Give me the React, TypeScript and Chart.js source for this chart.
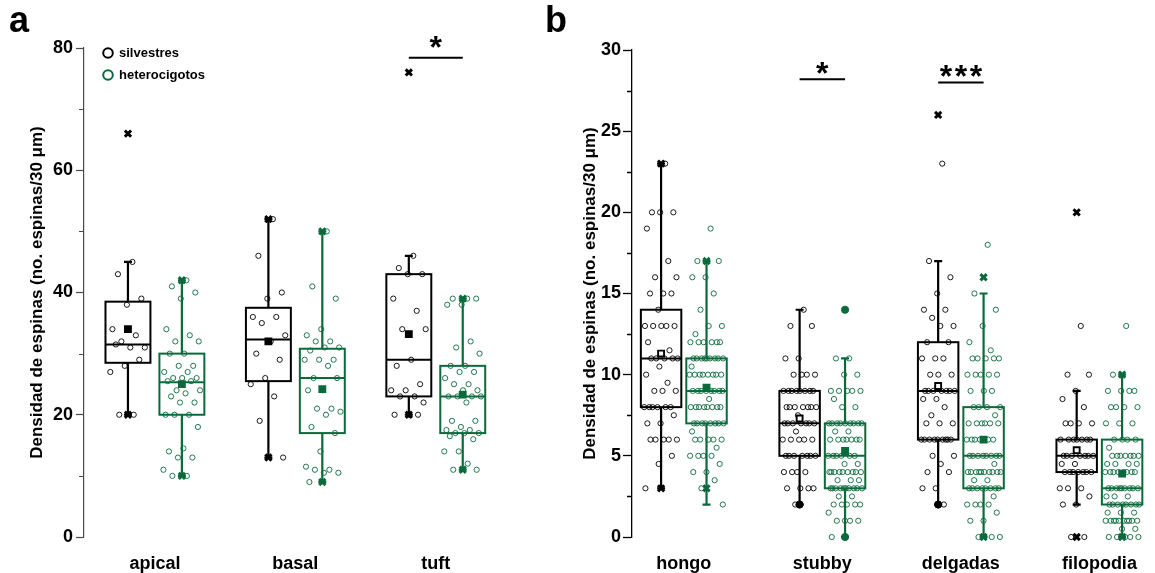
import React, { useEffect, useRef } from 'react';
import { Chart, registerables } from 'chart.js';

Chart.register(...registerables);

const FONT = '"Liberation Sans", Arial, Helvetica, sans-serif';
const BLACK = '#000000';
const GREEN = '#0b6a3c';

const SERIES = ['silvestres', 'heterocigotos'];

// ---------- Panel a ----------
const CATS_A = ['apical', 'basal', 'tuft'];
const A_SIL_PTS = [
  [45, 43, 39, 38, 34, 33, 32, 31, 31, 31.5, 29, 28, 27, 20, 20],
  [52, 46, 40, 39, 36, 36, 35, 33, 32, 30, 29, 26, 25, 23, 19, 13],
  [46, 44, 43, 43, 39, 37, 34, 34, 29, 28, 25, 24, 24, 23, 23, 22, 20, 20, 20],
];
const A_HET_PTS = [
  [42, 41, 40, 39, 34, 33, 32, 32, 30, 30, 28, 28, 27, 27, 26, 26, 26, 25.5, 25.5, 24, 24, 23.5, 23, 22, 22, 20, 20, 20, 18, 14.5, 14, 13, 13, 11, 10, 10],
  [50, 41, 39, 34, 33, 32, 32, 31, 31, 30.5, 29, 29, 29, 28, 26, 26, 24, 24, 21, 21, 20.5, 20, 18, 17, 14, 11.5, 11, 11, 10.5, 10.5, 9],
  [39, 39, 39, 38, 38, 32, 31, 30, 28, 28, 27, 27, 26, 25, 25, 24, 24, 23, 23, 23, 23, 22, 19, 19, 18, 17.5, 17.5, 17, 17, 17, 16.5, 16, 14, 14, 12, 11, 11],
];
const A_SIL_Q1 = [28.5, 25.5, 23];
const A_SIL_MED = [31.5, 32.3, 29];
const A_SIL_Q3 = [38.5, 37.5, 43];
const A_SIL_LO = [20, 13, 20];
const A_SIL_HI = [45, 52, 46];
const A_SIL_MEAN = [34, 32, 33.2];
const A_SIL_X = [[20, 66], [13, 52], [20, 76]];
const A_HET_Q1 = [20, 17, 17];
const A_HET_MED = [25.3, 26, 23];
const A_HET_Q3 = [30, 30.8, 28];
const A_HET_LO = [10, 9, 11];
const A_HET_HI = [42, 50, 39];
const A_HET_MEAN = [25, 24.2, 23.3];
const A_HET_X = [[10, 42], [9, 50], [11, 39]];
const A_SIG = [{ cat: 3, y: 78.4, stars: 1 }];

// ---------- Panel b ----------
const CATS_B = ['hongo', 'stubby', 'delgadas', 'filopodia'];
const B_SIL_PTS = [
  [23, 20, 20, 20, 19, 17, 16, 16, 15, 15, 15, 14, 13, 13, 13, 13, 13, 12, 11.5, 11, 11, 11, 11, 11, 10.5, 10, 9.5, 9, 9, 9, 8, 8, 8, 8, 8, 8, 7.5, 7, 7, 6, 6, 6, 6, 6, 5, 4.5, 3],
  [14, 13, 13, 11, 11, 10, 10, 10, 10, 9, 9, 9, 9, 9, 9, 9, 9, 8, 8, 8, 8, 8, 8, 8, 7.5, 7, 7, 7, 7, 7, 7, 7, 6.5, 6, 6, 6, 6, 6, 5, 5, 5, 5, 5, 5, 5, 4, 4, 4, 4, 3, 3, 3, 3, 2],
  [23, 17, 16, 15, 14, 14, 13.5, 13, 13, 12, 12, 11, 11, 11, 10, 10, 10, 9, 9, 9, 9, 9, 9, 9, 8.5, 8.5, 8, 7.5, 7, 7, 7, 6, 6, 6, 6, 6, 6, 6, 6, 6, 5, 5, 4.5, 4, 4, 3, 3, 2],
  [13, 10, 10, 9, 8.5, 8, 7, 7, 7, 7, 6, 6, 6, 6, 6, 6, 6, 5, 5, 5, 5, 5, 5, 5, 4.5, 4.5, 4, 4, 4, 4, 4, 4, 4, 3, 3, 3, 2.5, 2, 2, 0, 0],
];
const B_HET_PTS = [
  [19, 17, 17, 16, 16, 15, 14, 13, 13, 12.5, 12, 12, 12, 12, 12, 12, 11, 11, 11, 11, 11, 11, 11, 11, 11, 10.5, 10, 10, 10, 10, 10, 10, 10, 10, 9, 9, 9, 9, 9, 9, 9, 9, 8.5, 8, 8, 8, 8, 8, 8, 8, 8, 7, 7, 7, 7, 7, 7, 7, 7, 6.5, 6, 6, 6, 6, 6, 5.5, 5, 5, 5, 5, 4.5, 4, 4, 3.5, 3, 2],
  [11, 11, 10, 10, 9, 9, 9, 9, 9, 8.5, 8, 8, 7, 7, 7, 7, 7, 7, 7, 7, 7, 6.5, 6.5, 6, 6, 6, 6, 6, 6, 6, 5, 5, 5, 5, 5, 5, 4.5, 4.5, 4, 4, 4, 4, 4, 4, 4, 4, 4, 3.5, 3.5, 3.5, 3, 3, 3, 3, 3, 3, 3, 3, 3, 3, 2.5, 2.5, 2, 2, 2, 2, 2, 1.5, 1, 1, 1, 1, 0],
  [18, 15, 14, 13, 12, 11.5, 11, 11, 11, 11, 11, 10, 10, 10, 10, 10, 9, 9, 9, 8, 8, 8, 8, 7.5, 7, 7, 7, 7, 7, 7, 6, 6, 6, 6, 6, 6, 5, 5, 5, 5, 5, 5, 5, 5, 4.5, 4, 4, 4, 4, 4, 4, 4, 4, 4, 4, 3.5, 3.5, 3, 3, 3, 3, 3, 3, 3, 3, 2.5, 2, 2, 2, 2, 1.5, 1, 1, 0, 0, 0],
  [13, 10, 9, 9, 9, 9, 8, 8, 8, 8, 7, 7, 7, 6, 6, 6, 6, 5.5, 5, 5, 5, 5, 5, 5, 5, 4.5, 4.5, 4.5, 4.5, 4, 4, 4, 4, 4, 4, 4, 4, 3, 3, 3, 3, 3, 3, 3, 3, 3, 2.5, 2.5, 2.5, 2, 2, 2, 2, 2, 2, 2, 2, 1.5, 1.5, 1.5, 1, 1, 1, 1, 1, 1, 1, 1, 1, 1, 0.5, 0.5, 0, 0, 0, 0, 0],
];
const B_SIL_Q1 = [8, 5, 6, 4];
const B_SIL_MED = [11, 7, 9, 5];
const B_SIL_Q3 = [14, 9, 12, 6];
const B_SIL_LO = [3, 2, 2, 2];
const B_SIL_HI = [23, 14, 17, 9];
const B_SIL_MEAN = [11.3, 7.3, 9.3, 5.35];
const B_SIL_X = [[3, 23], [], [26], [0, 20]];
const B_SIL_DOT = [[], [2], [2], []];
const B_HET_Q1 = [7, 3, 3, 2];
const B_HET_MED = [9, 5, 5, 3];
const B_HET_Q3 = [11, 7, 8, 6];
const B_HET_LO = [2, 0, 0, 0];
const B_HET_HI = [17, 11, 15, 10];
const B_HET_MEAN = [9.2, 5.3, 6, 3.9];
const B_HET_X = [[3, 17], [], [0, 16], [0, 10]];
const B_HET_DOT = [[], [0, 14], [], []];
const B_SIG = [
  { cat: 2, y: 28.2, stars: 1 },
  { cat: 3, y: 28.0, stars: 3 },
];

const Y_TITLE = 'Densidad de espinas (no. espinas/30 μm)';

// ---------- helpers ----------
type Pt = { x: number; y: number };
const jitter = (i: number) => ((i * 0.6180339887) % 1) - 0.5;

function pointsData(groups: number[][], offset: number, spread: number): Pt[] {
  const out: Pt[] = [];
  groups.forEach((vals, c) =>
    vals.forEach((v, i) => out.push({ x: c + 1 + offset + jitter(i + 1) * spread, y: v }))
  );
  return out;
}
function centerData(values: number[], offset: number): Pt[] {
  return values.map((v, c) => ({ x: c + 1 + offset, y: v }));
}
function markerData(groups: number[][], offset: number): Pt[] {
  const out: Pt[] = [];
  groups.forEach((vals, c) => vals.forEach((v) => out.push({ x: c + 1 + offset, y: v })));
  return out;
}

type BoxSeries = {
  color: string; offset: number; meanFill: string;
  q1: number[]; med: number[]; q3: number[]; lo: number[]; hi: number[];
  mean: number[]; pts: number[][]; xs: number[][]; dots: number[][];
};

type PanelCfg = {
  cats: string[]; xMin: number; xMax: number; yMax: number; yStep: number;
  halfWidth: number; spread: number; boxes: BoxSeries[];
  axisColor: string; axisWidth: number; tickLen: number; minorLen: number; labelPad: number;
  yWidth: number; padding: { left: number; right: number; top: number; bottom: number };
  titlePadTop: number; letter: string; letterX: number; legend: boolean;
  sig: { cat: number; y: number; stars: number }[]; sigGap: number; offset: number;
};

function buildDatasets(cfg: PanelCfg) {
  const ds: any[] = [];
  cfg.boxes.forEach((b, si) => {
    ds.push({
      label: SERIES[si] + ' x', data: markerData(b.xs, b.offset), pointStyle: 'crossRot',
      pointRadius: 4.4, pointBorderWidth: 3, borderColor: b.color, backgroundColor: b.color, clip: false,
    });
    ds.push({
      label: SERIES[si] + ' dot', data: markerData(b.dots, b.offset), pointStyle: 'circle',
      pointRadius: 3.6, pointBorderWidth: 1, borderColor: b.color, backgroundColor: b.color, clip: false,
    });
    ds.push({
      label: SERIES[si] + ' mean', data: centerData(b.mean, b.offset), pointStyle: 'rect',
      pointRadius: 4.2, pointBorderWidth: 1.9, borderColor: b.color, backgroundColor: b.meanFill, clip: false,
    });
  });
  cfg.boxes.forEach((b, si) => {
    ds.push({
      label: SERIES[si], data: pointsData(b.pts, b.offset, cfg.spread), pointStyle: 'circle',
      pointRadius: 2.6, pointBorderWidth: 0.9, borderColor: b.color, backgroundColor: 'rgba(0,0,0,0)', clip: false,
    });
  });
  return ds;
}

function drawStars(ctx: CanvasRenderingContext2D, cx: number, cy: number, n: number) {
  ctx.save();
  ctx.font = `bold 32px ${FONT}`;
  ctx.fillStyle = BLACK;
  ctx.textAlign = 'center';
  ctx.textBaseline = 'alphabetic';
  const m = ctx.measureText('*');
  const asc = m.actualBoundingBoxAscent || 22;
  const desc = m.actualBoundingBoxDescent || -10;
  const base = cy + (asc - desc) / 2;
  for (let k = 0; k < n; k++) {
    ctx.fillText('*', cx + (k - (n - 1) / 2) * 15, base);
  }
  ctx.restore();
}

function makePlugin(cfg: PanelCfg) {
  return {
    id: 'panelDecor',
    beforeDatasetsDraw(chart: any) {
      const { ctx } = chart;
      const x = chart.scales.x;
      const y = chart.scales.y;
      cfg.boxes.forEach((b) => {
        b.q1.forEach((q1, c) => {
          const cx = x.getPixelForValue(c + 1 + b.offset);
          const hw = x.getPixelForValue(c + 1 + b.offset + cfg.halfWidth) - cx;
          const yq1 = y.getPixelForValue(q1);
          const yq3 = y.getPixelForValue(b.q3[c]);
          const ym = y.getPixelForValue(b.med[c]);
          const ylo = y.getPixelForValue(b.lo[c]);
          const yhi = y.getPixelForValue(b.hi[c]);
          ctx.save();
          ctx.strokeStyle = b.color;
          ctx.lineWidth = 2.2;
          ctx.beginPath();
          ctx.moveTo(cx, yq3); ctx.lineTo(cx, yhi);
          ctx.moveTo(cx, yq1); ctx.lineTo(cx, ylo);
          ctx.moveTo(cx - 4, yhi); ctx.lineTo(cx + 4, yhi);
          ctx.moveTo(cx - 4, ylo); ctx.lineTo(cx + 4, ylo);
          ctx.stroke();
          ctx.lineWidth = 2;
          ctx.strokeRect(cx - hw, yq3, hw * 2, yq1 - yq3);
          ctx.beginPath();
          ctx.moveTo(cx - hw, ym); ctx.lineTo(cx + hw, ym);
          ctx.stroke();
          ctx.restore();
        });
      });
    },
    afterDraw(chart: any) {
      const { ctx, chartArea } = chart;
      const x = chart.scales.x;
      const y = chart.scales.y;
      // minor ticks
      ctx.save();
      ctx.strokeStyle = cfg.axisColor;
      ctx.lineWidth = cfg.axisWidth;
      ctx.beginPath();
      for (let v = cfg.yStep / 2; v < cfg.yMax; v += cfg.yStep) {
        const py = Math.round(y.getPixelForValue(v)) + 0.5;
        ctx.moveTo(chartArea.left, py);
        ctx.lineTo(chartArea.left - cfg.minorLen, py);
      }
      ctx.stroke();
      ctx.restore();
      // significance
      cfg.sig.forEach((s) => {
        const x1 = x.getPixelForValue(s.cat - cfg.offset);
        const x2 = x.getPixelForValue(s.cat + cfg.offset);
        const py = y.getPixelForValue(s.y);
        ctx.save();
        ctx.strokeStyle = BLACK;
        ctx.lineWidth = 2;
        ctx.beginPath();
        ctx.moveTo(x1, py); ctx.lineTo(x2, py);
        ctx.stroke();
        ctx.restore();
        drawStars(ctx, (x1 + x2) / 2, py - cfg.sigGap, s.stars);
      });
      // legend
      if (cfg.legend) {
        cfg.boxes.forEach((b, i) => {
          const ly = 53 + i * 22;
          ctx.save();
          ctx.strokeStyle = b.color;
          ctx.lineWidth = 2;
          ctx.beginPath();
          ctx.arc(108, ly, 4.8, 0, Math.PI * 2);
          ctx.stroke();
          ctx.fillStyle = BLACK;
          ctx.font = `bold 13px ${FONT}`;
          ctx.textAlign = 'left';
          ctx.textBaseline = 'middle';
          ctx.fillText(SERIES[i], 119, ly);
          ctx.restore();
        });
      }
      // panel letter
      ctx.save();
      ctx.fillStyle = BLACK;
      ctx.font = `bold 36px ${FONT}`;
      ctx.textAlign = 'left';
      ctx.textBaseline = 'alphabetic';
      ctx.fillText(cfg.letter, cfg.letterX, 32);
      ctx.restore();
    },
  };
}

function makeChart(canvas: HTMLCanvasElement, cfg: PanelCfg) {
  return new Chart(canvas, {
    type: 'scatter',
    data: { datasets: buildDatasets(cfg) },
    options: {
      animation: false,
      responsive: false,
      devicePixelRatio: 1,
      events: [],
      layout: { padding: cfg.padding },
      plugins: { legend: { display: false }, tooltip: { enabled: false } },
      scales: {
        x: {
          type: 'linear',
          min: cfg.xMin,
          max: cfg.xMax,
          afterBuildTicks: (s: any) => {
            s.ticks = cfg.cats.map((_, i) => ({ value: i + 1 }));
          },
          afterFit: (s: any) => {
            s.height = 36;
          },
          grid: { display: false },
          border: { display: false },
          ticks: {
            autoSkip: false,
            maxRotation: 0,
            padding: 8,
            color: BLACK,
            font: { family: FONT, size: 18, weight: 'bold' },
            callback: (v: any) => cfg.cats[Math.round(Number(v)) - 1] ?? '',
          },
        },
        y: {
          type: 'linear',
          min: 0,
          max: cfg.yMax,
          afterFit: (s: any) => {
            s.width = cfg.yWidth;
          },
          grid: {
            display: true,
            drawOnChartArea: false,
            drawTicks: true,
            tickLength: cfg.tickLen,
            tickColor: cfg.axisColor,
            tickWidth: cfg.axisWidth,
          },
          border: { display: true, color: cfg.axisColor, width: cfg.axisWidth },
          ticks: {
            stepSize: cfg.yStep,
            padding: cfg.labelPad,
            color: BLACK,
            font: { family: FONT, size: 18, weight: 'bold' },
          },
          title: {
            display: true,
            text: Y_TITLE,
            color: BLACK,
            font: { family: FONT, size: 17, weight: 'bold' },
            padding: { top: cfg.titlePadTop, bottom: 0 },
          },
        },
      },
    },
    plugins: [makePlugin(cfg)],
  } as any);
}

const PANEL_A: PanelCfg = {
  cats: CATS_A,
  xMin: 0.495,
  xMax: 3.5,
  yMax: 80,
  yStep: 20,
  halfWidth: 0.16,
  spread: 0.27,
  offset: 0.192,
  boxes: [
    { color: BLACK, meanFill: BLACK, offset: -0.192, q1: A_SIL_Q1, med: A_SIL_MED, q3: A_SIL_Q3, lo: A_SIL_LO, hi: A_SIL_HI, mean: A_SIL_MEAN, pts: A_SIL_PTS, xs: A_SIL_X, dots: [[], [], []] },
    { color: GREEN, meanFill: GREEN, offset: 0.192, q1: A_HET_Q1, med: A_HET_MED, q3: A_HET_Q3, lo: A_HET_LO, hi: A_HET_HI, mean: A_HET_MEAN, pts: A_HET_PTS, xs: A_HET_X, dots: [[], [], []] },
  ],
  axisColor: '#4a4a4a',
  axisWidth: 1.2,
  tickLen: 8,
  minorLen: 5,
  labelPad: 3,
  yWidth: 64,
  padding: { left: 20, right: 34, top: 48, bottom: 0 },
  titlePadTop: 7,
  letter: 'a',
  letterX: 9,
  legend: true,
  sig: A_SIG,
  sigGap: 16,
};

const PANEL_B: PanelCfg = {
  cats: CATS_B,
  xMin: 0.626,
  xMax: 4.348,
  yMax: 30,
  yStep: 5,
  halfWidth: 0.146,
  spread: 0.25,
  offset: 0.164,
  boxes: [
    { color: BLACK, meanFill: '#ffffff', offset: -0.164, q1: B_SIL_Q1, med: B_SIL_MED, q3: B_SIL_Q3, lo: B_SIL_LO, hi: B_SIL_HI, mean: B_SIL_MEAN, pts: B_SIL_PTS, xs: B_SIL_X, dots: B_SIL_DOT },
    { color: GREEN, meanFill: GREEN, offset: 0.164, q1: B_HET_Q1, med: B_HET_MED, q3: B_HET_Q3, lo: B_HET_LO, hi: B_HET_HI, mean: B_HET_MEAN, pts: B_HET_PTS, xs: B_HET_X, dots: B_HET_DOT },
  ],
  axisColor: BLACK,
  axisWidth: 1.3,
  tickLen: 9,
  minorLen: 5,
  labelPad: 2,
  yWidth: 58,
  padding: { left: 34, right: 0, top: 50, bottom: 0 },
  titlePadTop: 6,
  letter: 'b',
  letterX: 5,
  legend: false,
  sig: B_SIG,
  sigGap: 11,
};

export default function App() {
  const refA = useRef<HTMLCanvasElement>(null);
  const refB = useRef<HTMLCanvasElement>(null);
  useEffect(() => {
    const a = refA.current ? makeChart(refA.current, PANEL_A) : null;
    const b = refB.current ? makeChart(refB.current, PANEL_B) : null;
    return () => {
      a?.destroy();
      b?.destroy();
    };
  }, []);
  return (
    <div style={{ position: 'absolute', left: 0, top: 0, width: 1155, height: 573, background: '#ffffff', overflow: 'hidden' }}>
      <canvas ref={refA} width={540} height={573} style={{ position: 'absolute', left: 0, top: 0, width: 540, height: 573 }} />
      <canvas ref={refB} width={615} height={573} style={{ position: 'absolute', left: 540, top: 0, width: 615, height: 573 }} />
    </div>
  );
}
